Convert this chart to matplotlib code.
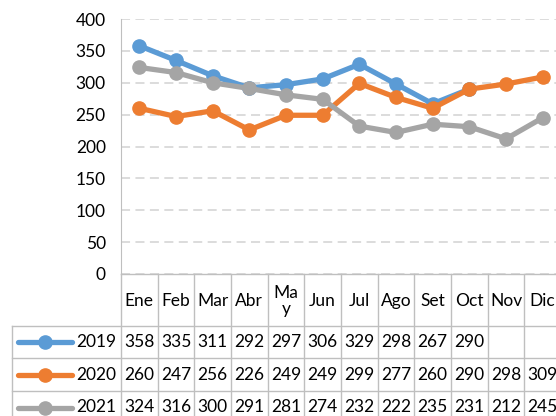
import numpy as np
import matplotlib.pyplot as plt
from matplotlib import transforms

plt.rcParams['font.family'] = ['Lato', 'DejaVu Sans']

months = ["Ene", "Feb", "Mar", "Abr", "Ma\ny", "Jun", "Jul", "Ago", "Set", "Oct", "Nov", "Dic"]
years = ["2019", "2020", "2021"]
v2019 = [358, 335, 311, 292, 297, 306, 329, 298, 267, 290, np.nan, np.nan]
v2020 = [260, 247, 256, 226, 249, 249, 299, 277, 260, 290, 298, 309]
v2021 = [324, 316, 300, 291, 281, 274, 232, 222, 235, 231, 212, 245]
colors = ["#5B9BD5", "#ED7D31", "#A5A5A5"]

W, H = 556, 416
fs = 12.5
fig = plt.figure(figsize=(W / 100, H / 100), dpi=100)

# plot area in pixels
x0, x1, ytop, ybot = 121, 561, 19, 274
ax = fig.add_axes([x0 / W, 1 - ybot / H, (x1 - x0) / W, (ybot - ytop) / H])
colw = (x1 - x0) / len(months)

x = np.arange(len(months))
series = [v2019, v2020, v2021]
for vals, c in zip(series, colors):
    ax.plot(x, vals, color=c, lw=3.8, marker="o", ms=9.5, solid_capstyle="round", zorder=3)

ax.set_xlim(-0.5, len(months) - 0.5)
ax.set_ylim(0, 400)
ax.set_yticks(range(0, 401, 50))
ax.set_xticks([])
ax.grid(axis="y", color="#D9D9D9", lw=1.3, linestyle=(0, (5, 3)))
for s in ["top", "right", "bottom"]:
    ax.spines[s].set_visible(False)
ax.spines["left"].set_color("#BFBFBF")
ax.tick_params(axis="y", length=0, pad=11, labelsize=fs)

# table below the axes: x in data units, y in figure pixels
tr = transforms.blended_transform_factory(ax.transData, fig.transFigure)
def fy(py):
    return 1 - py / H
def dx(px):
    return -0.5 + (px - x0) / colw

grid_c = "#BFBFBF"
rows_y = [274, 326, 358, 391, 424]
left = dx(12)
right = len(months) - 0.5
# horizontal lines
ax.plot([-0.5, right], [fy(rows_y[0])] * 2, color=grid_c, lw=1, transform=tr, clip_on=False)
for yy in rows_y[1:]:
    ax.plot([left, right], [fy(yy)] * 2, color=grid_c, lw=1, transform=tr, clip_on=False)
# vertical lines
ax.plot([left, left], [fy(rows_y[1]), fy(rows_y[-1])], color=grid_c, lw=1, transform=tr, clip_on=False)
for i in range(len(months) + 1):
    ax.plot([i - 0.5] * 2, [fy(rows_y[0]), fy(rows_y[-1])], color=grid_c, lw=1, transform=tr, clip_on=False)

# header
for i, m in enumerate(months):
    ax.text(i, fy((rows_y[0] + rows_y[1]) / 2 + 1), m, ha="center", va="center",
            fontsize=fs, linespacing=0.95, transform=tr)

# data rows
for r, (yr, vals, c) in enumerate(zip(years, series, colors)):
    yc = fy((rows_y[r + 1] + rows_y[r + 2]) / 2)
    ax.plot([dx(18), dx(72)], [yc, yc], color=c, lw=3.8, solid_capstyle="round",
            transform=tr, clip_on=False)
    ax.plot([dx(45)], [yc], color=c, marker="o", ms=9.5, transform=tr, clip_on=False)
    ax.text(dx(116), yc, yr, ha="right", va="center", fontsize=fs, transform=tr)
    for i, v in enumerate(vals):
        if not np.isnan(v):
            ax.text(i, yc, f"{v:.0f}", ha="center", va="center", fontsize=fs, transform=tr)

fig.savefig("out.png", dpi=100)
